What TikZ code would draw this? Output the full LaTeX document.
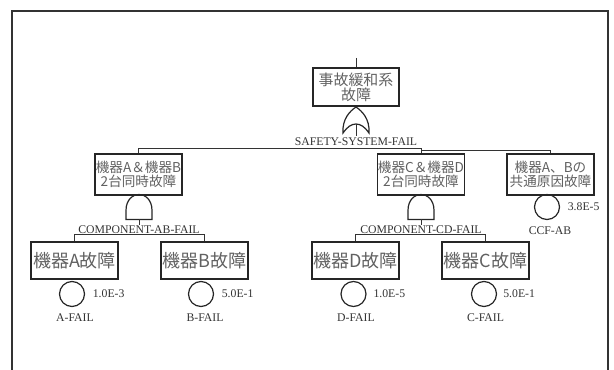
\documentclass[tikz,border=0pt]{standalone}
\usepackage{fontspec}
\setmainfont{Liberation Serif}
\newfontfamily\jp{Noto Sans CJK JP}
\begin{document}
\begin{tikzpicture}[x=0.75pt,y=-0.75pt,
  box/.style={draw=black!85,line width=0.9pt,rectangle,inner sep=0pt,align=center,text=black!62},
  topbox/.style={box,minimum width=64.5pt,minimum height=28.5pt,font=\jp\fontsize{11.2}{11.4}\selectfont},
  midbox/.style={box,minimum width=65.25pt,minimum height=30.75pt,font=\jp\fontsize{10.2}{10.6}\selectfont},
  botbox/.style={box,minimum width=65.25pt,minimum height=27.75pt,font=\jp\fontsize{13.5}{14}\selectfont},
  ev/.style={draw=black!85,line width=0.9pt,circle,minimum size=18.75pt,inner sep=0pt},
  lab/.style={font=\fontsize{8.8}{9}\selectfont,inner sep=0pt,text=black!80},
  prob/.style={lab},
  wire/.style={draw=black!80,line width=0.75pt},
  gate/.style={draw=black!85,line width=0.9pt},
  orgate/.pic={\draw[gate] (-13,0) .. controls (-14,-14) and (-6,-22) .. (0,-26)
      .. controls (6,-22) and (14,-14) .. (13,0)
      .. controls (5,-12) and (-5,-12) .. cycle;},
  andgate/.pic={\draw[gate] (-13,0) -- (-13,-9) .. controls (-13,-20) and (-6,-25) .. (0,-25)
      .. controls (6,-25) and (13,-20) .. (13,-9) -- (13,0) -- cycle;}
]
\useasboundingbox (0,0) rectangle (614,370);
% frame
\draw[line width=0.8pt,black!80] (12,370) -- (12,11) -- (608,11) -- (608,370);

% boxes
\node[topbox] (top) at (356,87) {事故緩和系\\故障};
\node[midbox] (ab) at (138.5,174.5) {機器A＆機器B\\2台同時故障};
\node[midbox] (cd) at (421,174.5) {機器C＆機器D\\2台同時故障};
\node[midbox] (ccf) at (550.5,174.5) {機器A、Bの\\共通原因故障};
\node[botbox] (a) at (74.5,260.5) {機器A故障};
\node[botbox] (b) at (204.5,260.5) {機器B故障};
\node[botbox] (d) at (355.5,260.5) {機器D故障};
\node[botbox] (c) at (485.5,260.5) {機器C故障};

% top input stub
\coordinate (topin) at (356,58);
\draw[wire] (topin) -- (top.north);

% gates
\pic at (356,133) {orgate};
\coordinate (orout) at (356,124);
\coordinate (orend) at (356,136);
\draw[wire] (orout) -- (orend);
\node[lab] (sysl) at (356,142) {SAFETY-SYSTEM-FAIL};

\pic at (139,219.5) {andgate};
\coordinate (abo1) at (139,219.5);
\coordinate (abo2) at (139,225);
\draw[wire] (abo1) -- (abo2);
\node[lab] (abl) at (139,230) {COMPONENT-AB-FAIL};

\pic at (421,219.5) {andgate};
\coordinate (cdo1) at (421,219.5);
\coordinate (cdo2) at (421,225);
\draw[wire] (cdo1) -- (cdo2);
\node[lab] (cdl) at (421,230) {COMPONENT-CD-FAIL};

% connectors
\draw[wire] (ab.north) -- ++(0,-5) -| (cd.north);
\draw[wire] (cd.north) ++(0,-3) -| (ccf.north);
\draw[wire] (a.north) -- ++(0,-7) -| (b.north);
\draw[wire] (d.north) -- ++(0,-7) -| (c.north);

% basic events
\node[ev] (ea) at (72,294) {};
\node[ev] (eb) at (201,294) {};
\node[ev] (ed) at (353.5,294) {};
\node[ev] (ec) at (484,294) {};
\node[ev] (eccf) at (547,207) {};

\node[prob,right=5.6pt] (pa) at (ea.east) {1.0E-3};
\node[prob,right=5.6pt] (pb) at (eb.east) {5.0E-1};
\node[prob,right=5pt] (pd) at (ed.east) {1.0E-5};
\node[prob,right=4.5pt] (pc) at (ec.east) {5.0E-1};
\node[prob,right=5.6pt] (pccf) at (eccf.east) {3.8E-5};

\node[lab] (na) at (75,318) {A-FAIL};
\node[lab] (nb) at (205,318) {B-FAIL};
\node[lab] (nd) at (356,318) {D-FAIL};
\node[lab] (nc) at (485.5,318) {C-FAIL};
\node[lab] (nccf) at (550,231) {CCF-AB};
\end{tikzpicture}
\end{document}
